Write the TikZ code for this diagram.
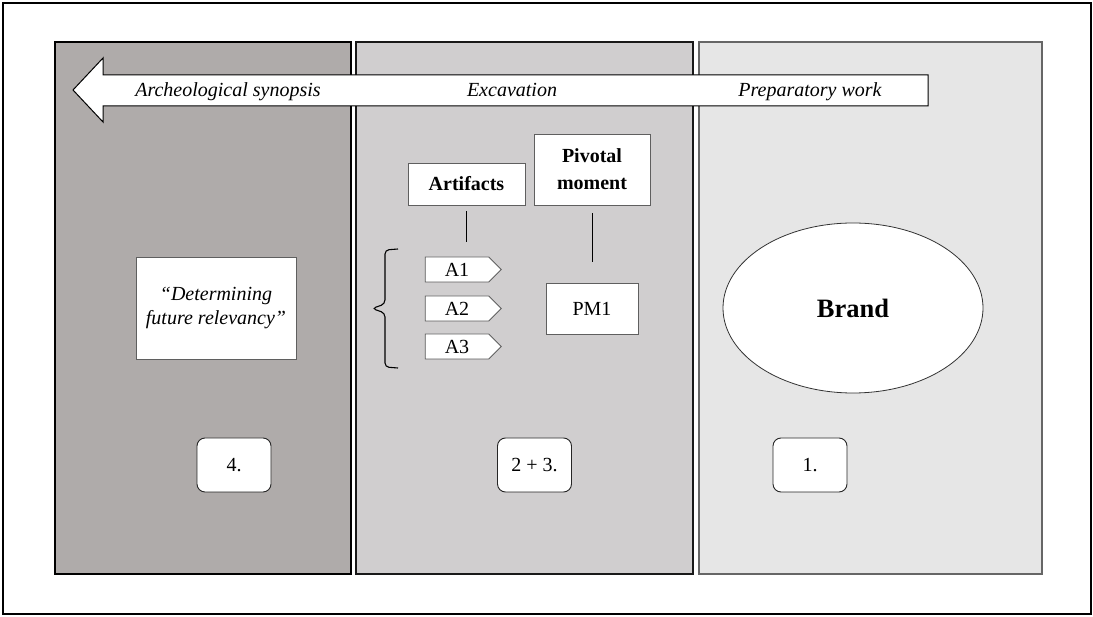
\documentclass[tikz,border=0pt]{standalone}
\usepackage{fontspec}
\setmainfont{Liberation Serif}
\usepackage{xcolor}
\usetikzlibrary{shapes.geometric}
\usetikzlibrary{shapes.symbols}

\definecolor{darkpanel}{RGB}{175,171,170}
\definecolor{midpanel}{RGB}{208,206,207}
\definecolor{lightpanel}{RGB}{230,230,230}
\definecolor{boxline}{RGB}{95,95,95}

\newcommand{\txtsize}{\fontsize{20}{24}\selectfont}

\tikzset{
  panel/.style={line width=1.3pt},
  phase/.style={font=\txtsize\itshape, anchor=base},
  headbox/.style={draw=boxline, fill=white, line width=0.9pt, inner sep=0pt, align=center, font=\fontsize{20}{27}\selectfont\bfseries},
  plainbox/.style={draw=boxline, fill=white, line width=0.9pt, inner sep=0pt, align=center, font=\txtsize},
  tagbox/.style={shape=signal, signal to=east, signal pointer angle=90, draw=boxline, fill=white, line width=0.9pt, minimum width=76pt, minimum height=25pt, inner sep=0pt, font=\txtsize},
  stagebox/.style={draw=black!85, fill=white, line width=0.9pt, rounded corners=8pt, minimum width=74pt, minimum height=54pt, font=\txtsize},
  link/.style={line width=0.9pt, black},
}

\begin{document}
\begin{tikzpicture}[x=1pt,y=-1pt]
        \useasboundingbox (0,0) rectangle (1093,617);
        \fill[white] (0,0) rectangle (1093,617);
        \draw[line width=1.8pt] (3,3) rectangle (1091,614);
        % the three phases
        \filldraw[panel, fill=darkpanel, draw=black] (55,42) rectangle (351,574);
        \filldraw[panel, fill=midpanel, draw=black!90] (356,42) rectangle (693,574);
        \filldraw[panel, fill=lightpanel, draw=black!60] (699,42) rectangle (1042,574);
        % time arrow
        \filldraw[fill=white, draw=black, line width=1pt] (73,90) -- (103,58) -- (103,75) -- (928,75) -- (928,106) -- (103,106) -- (103,122) -- cycle;
        \node[phase] (synopsis) at (228,97) {Archeological synopsis};
        \node[phase] (excavation) at (512,97) {Excavation};
        \node[phase] (prep) at (810,97) {Preparatory work};
        % phase 4
        \node[plainbox, font=\txtsize\itshape, minimum width=160pt, minimum height=102pt] (relevancy) at (216,308) {“Determining\\future relevancy”};
        \node[stagebox] (stage4) at (234,465) {4.};
        % phase 2 + 3
        \node[headbox, minimum width=117pt, minimum height=42pt] (artifacts) at (466.5,184) {Artifacts};
        \node[headbox, minimum width=116pt, minimum height=71pt] (pivot) at (592,169.5) {Pivotal\\moment};
        \node[tagbox] (a1) at (457,269.5) {A1};
        \node[tagbox] (a2) at (457,308.5) {A2};
        \node[tagbox] (a3) at (457,346.5) {A3};
        \node[plainbox, minimum width=92pt, minimum height=51pt] (pm1) at (592,308.5) {PM1};
        \draw[link, shorten <=6pt, shorten >=15pt] (artifacts.south) -- (artifacts.south |- a1.north);
        \draw[link, shorten <=8pt, shorten >=21pt] (pivot.south) -- (pm1.north);
        \draw[line width=1.1pt, rounded corners=4pt] (398,249) -- (385,250) -- (385,304) -- (372,308.5) -- (385,313) -- (385,367) -- (398,368);
        \node[stagebox] (stage23) at (534.5,465) {2 + 3.};
        % phase 1
        \node[ellipse, draw=black!80, fill=white, line width=0.8pt, minimum width=260pt, minimum height=170pt, font=\fontsize{26.5}{30}\selectfont\bfseries] (brand) at (853,308) {Brand};
        \node[stagebox] (stage1) at (810,465) {1.};
    \end{tikzpicture}
\end{document}
